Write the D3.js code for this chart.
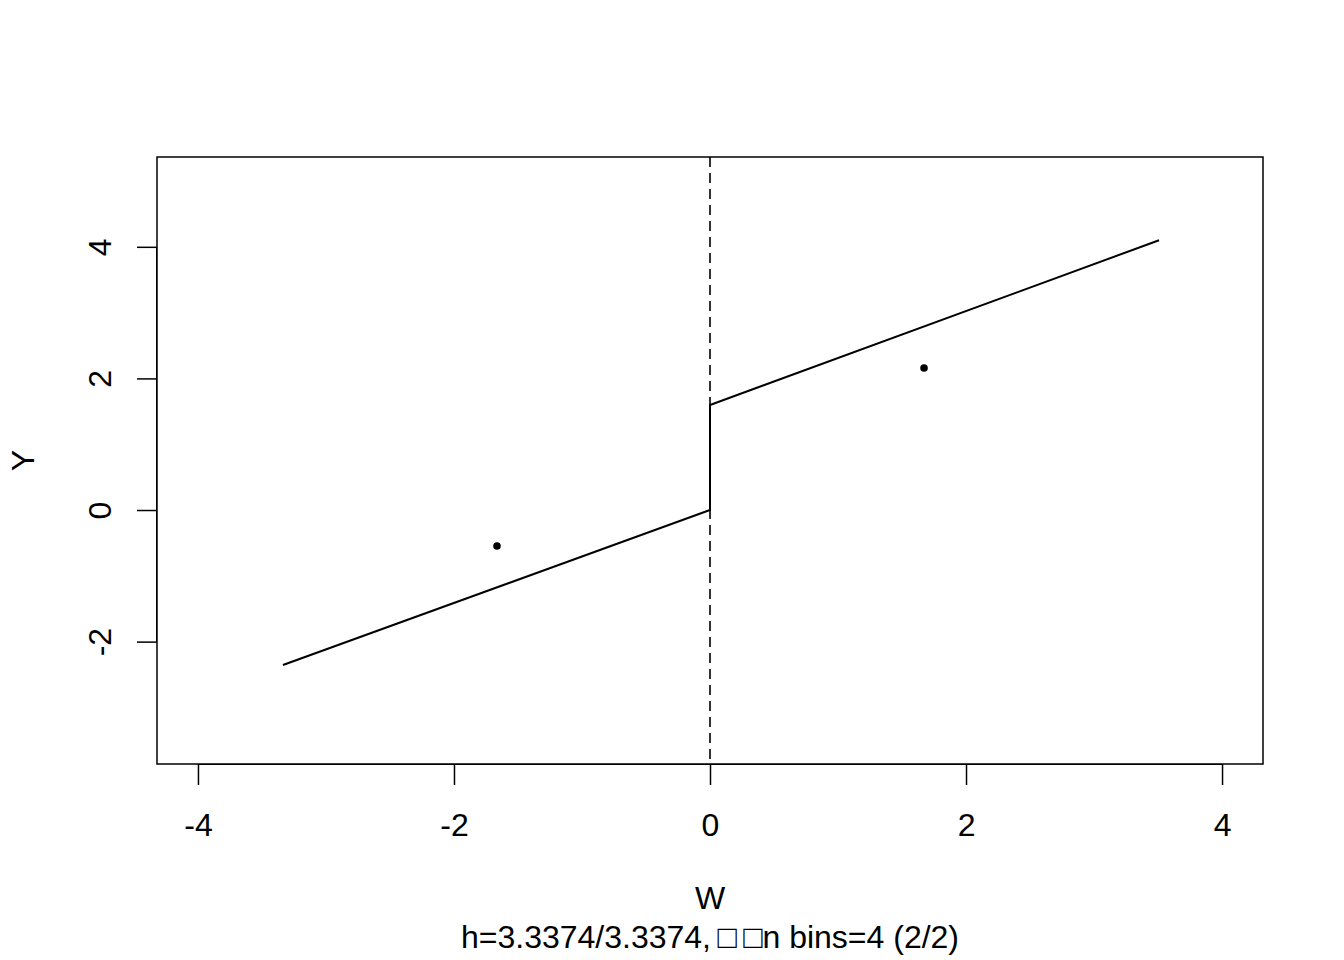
<!DOCTYPE html>
<html>
<head>
<meta charset="utf-8">
<script src="https://cdn.jsdelivr.net/npm/d3@7"></script>
<style>
  body { margin: 0; background: #fff; }
  text { font-family: "Liberation Sans", Arial, Helvetica, sans-serif; fill: #000; }
</style>
</head>
<body>
<script>
// values
const lineX = [-3.336, 0, 0, 3.508];
const lineY = [-2.355, 0, 1.596, 4.10];
const pointX = [-1.664, 1.672];
const pointY = [-0.547, 2.158];
const cutoff = 0;
const xTicks = [-4, -2, 0, 2, 4];
const yTicks = [-2, 0, 2, 4];
const xLabel = "W";
const yLabel = "Y";
const subTitle = "h=3.3374/3.3374,\u2009\u25a1\u2009\u25a1n bins=4 (2/2)";

const w = 1344, h = 960;
const boxL = 157, boxR = 1263, boxT = 157, boxB = 764;

const svg = d3.select("body").append("svg")
    .attr("width", w).attr("height", h);

const xScale = d3.scaleLinear().domain([-4.32, 4.32]).range([boxL, boxR]);
const yScale = d3.scaleLinear().domain([-3.86, 5.365]).range([boxB, boxT]);

const fs = 32;
const minus = d => d < 0 ? "-" + Math.abs(d) : d;

// x axis
const xAxis = d3.axisBottom(xScale).tickValues(xTicks)
    .tickSize(21).tickPadding(28);
const gx = svg.append("g")
    .attr("transform", "translate(0," + boxB + ")")
    .call(xAxis);
gx.select(".domain").attr("d", "M" + xScale(xTicks[0]) + ",0.5H" + xScale(xTicks[xTicks.length - 1]));
gx.selectAll(".tick line").attr("stroke-width", 1.5);
gx.selectAll("text").style("font-size", fs + "px").text(minus);

// y axis
const yAxis = d3.axisLeft(yScale).tickValues(yTicks).tickSize(20).tickPadding(0);
const gy = svg.append("g")
    .attr("transform", "translate(" + boxL + ",0)")
    .call(yAxis);
gy.select(".domain").attr("d", "M-0.5," + yScale(yTicks[0]) + "V" + yScale(yTicks[yTicks.length - 1]));
gy.selectAll(".tick line").attr("stroke-width", 1.5);
gy.selectAll(".tick text").remove();
gy.selectAll(".tick").append("text")
    .attr("transform", "translate(-57.5,0) rotate(-90)")
    .attr("text-anchor", "middle")
    .attr("dy", "0.35em")
    .style("font-size", fs + "px")
    .text(minus);

// box
svg.append("rect")
    .attr("x", boxL).attr("y", boxT)
    .attr("width", boxR - boxL).attr("height", boxB - boxT)
    .attr("fill", "none").attr("stroke", "#000").attr("stroke-width", 1.5);

// cutoff dashed line
svg.append("line")
    .attr("x1", xScale(cutoff)).attr("x2", xScale(cutoff))
    .attr("y1", boxT).attr("y2", boxB)
    .attr("stroke", "#000").attr("stroke-width", 1.6)
    .attr("stroke-dasharray", "10,6");

// fitted line
const line = d3.line().x(d => xScale(d[0])).y(d => yScale(d[1]));
svg.append("path")
    .datum(lineX.map((x, i) => [x, lineY[i]]))
    .attr("d", line)
    .attr("fill", "none").attr("stroke", "#000").attr("stroke-width", 2);

// bin means
svg.selectAll("circle.pt")
    .data(pointX.map((x, i) => [x, pointY[i]]))
    .enter().append("circle")
    .attr("class", "pt")
    .attr("cx", d => xScale(d[0]))
    .attr("cy", d => yScale(d[1]))
    .attr("r", 3.8)
    .attr("fill", "#000");

// labels
svg.append("text")
    .attr("x", (boxL + boxR) / 2).attr("y", 909)
    .attr("text-anchor", "middle").style("font-size", fs + "px")
    .text(xLabel);
svg.append("text")
    .attr("x", (boxL + boxR) / 2).attr("y", 948)
    .attr("text-anchor", "middle").style("font-size", fs + "px")
    .text(subTitle);
svg.append("text")
    .attr("transform", "translate(23," + (boxT + boxB) / 2 + ") rotate(-90)")
    .attr("text-anchor", "middle").attr("dy", "0.35em")
    .style("font-size", fs + "px")
    .text(yLabel);
</script>
</body>
</html>
